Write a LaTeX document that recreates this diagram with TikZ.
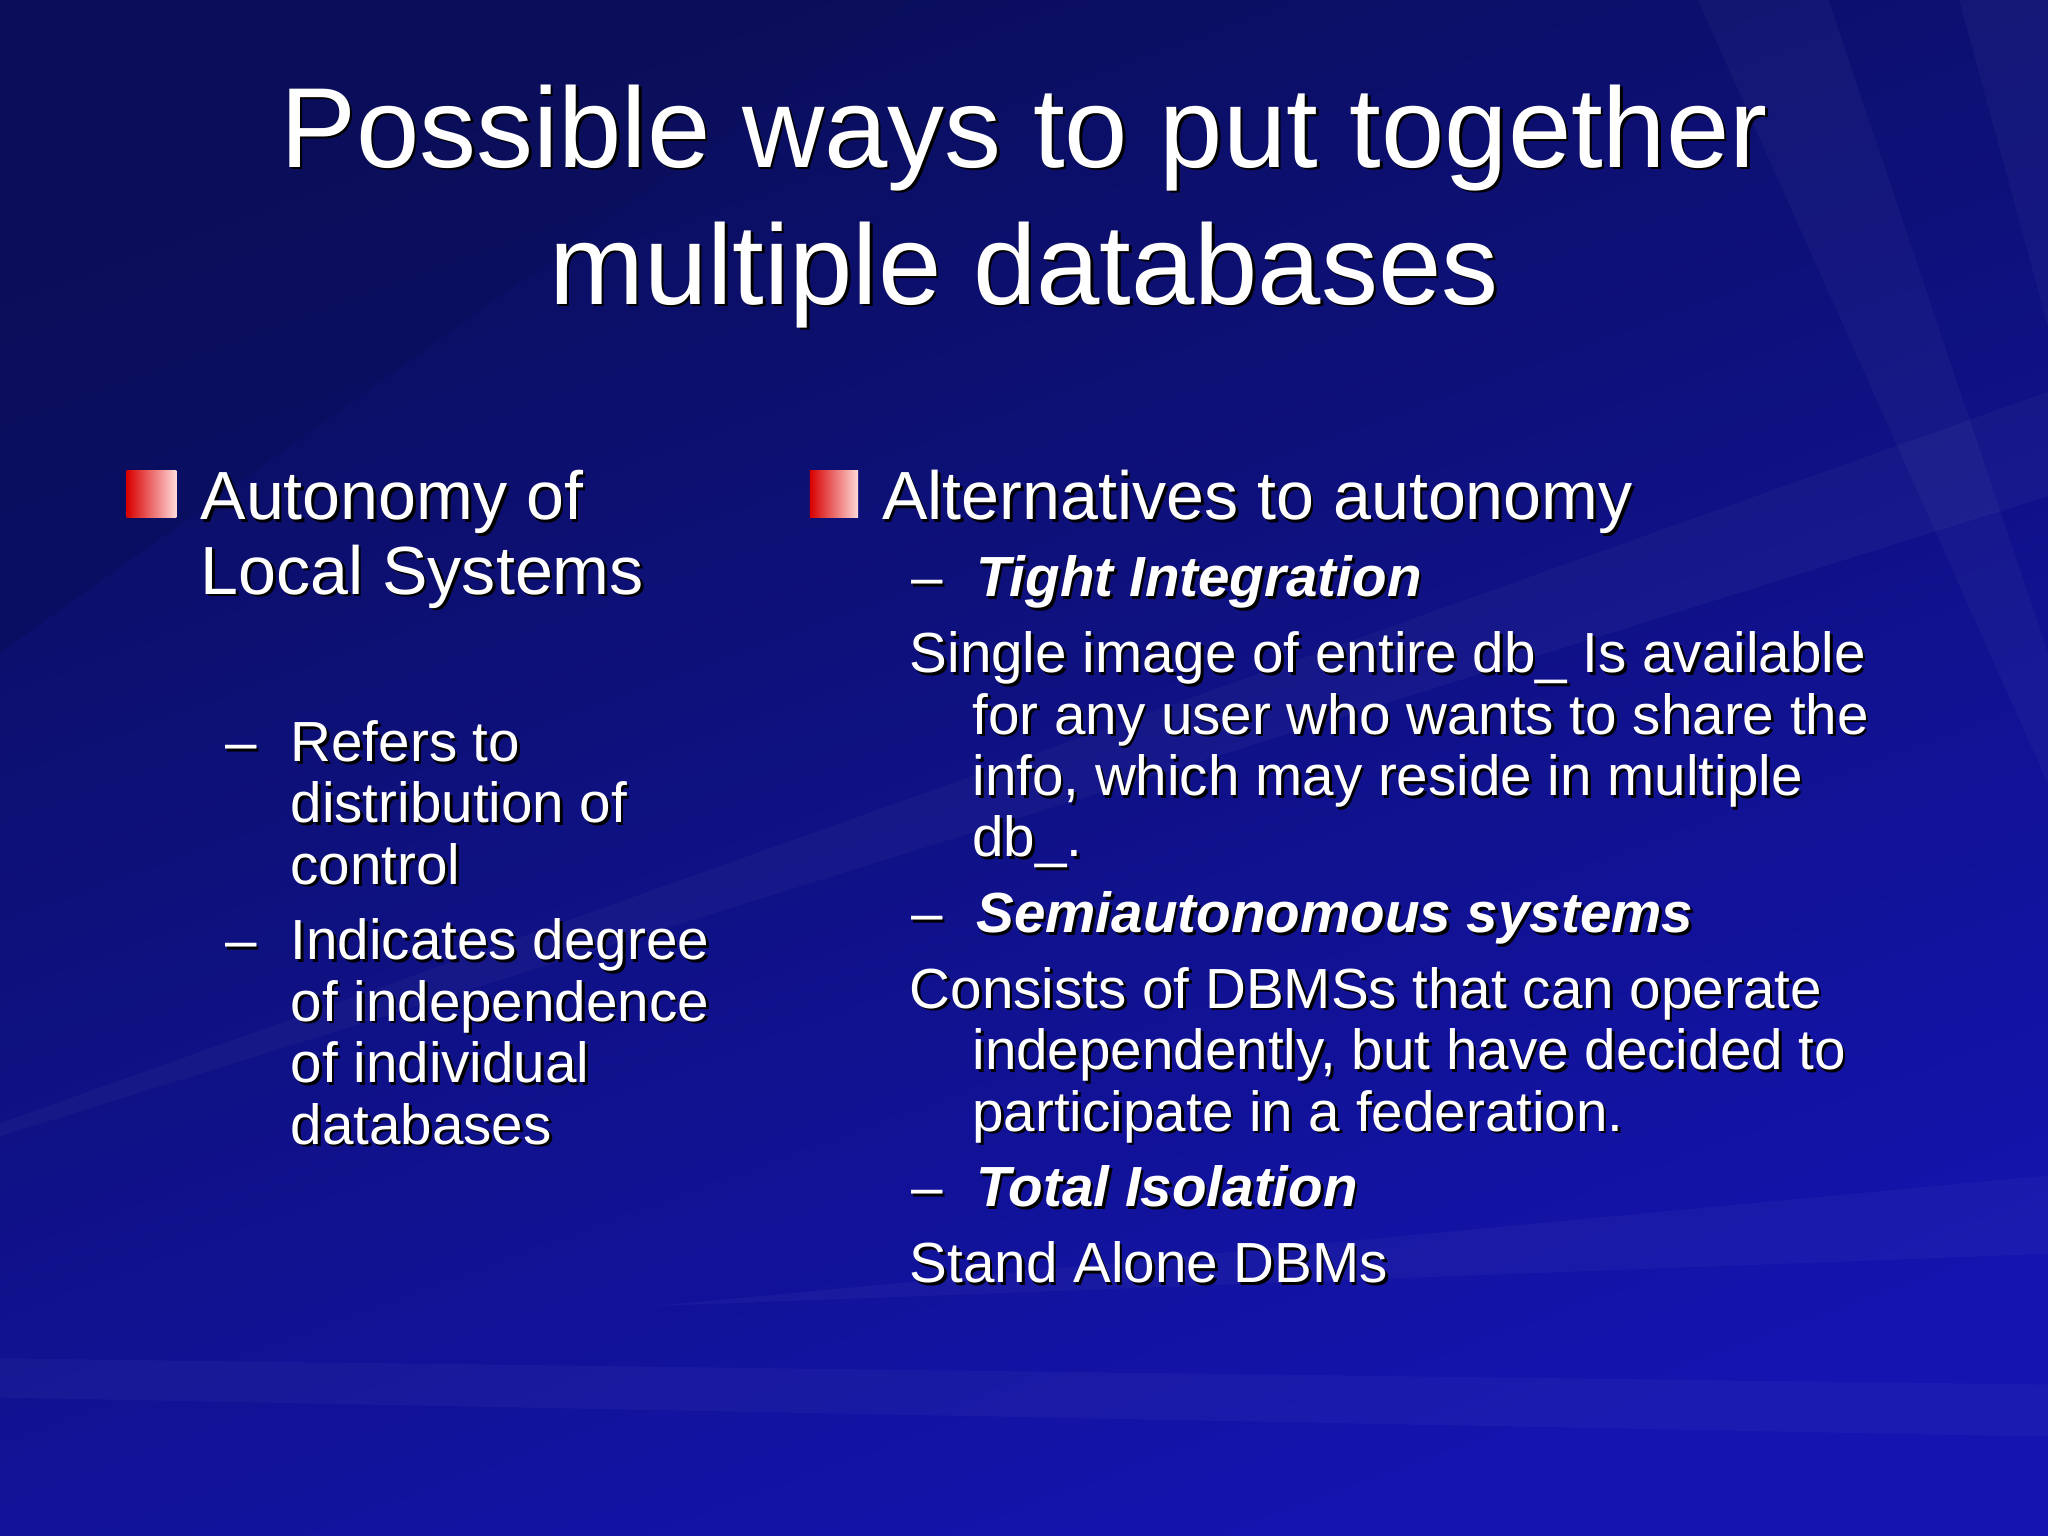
\documentclass[tikz,border=0pt]{standalone}
\usepackage{fontspec}
\setmainfont{Liberation Sans}
\definecolor{bgA}{HTML}{0A0E5A}
\definecolor{bgB}{HTML}{1414B0}
\tikzset{
 txt/.style={anchor=base west,inner sep=0pt,text=white},
 shd/.style={anchor=base west,inner sep=0pt,text=black},
 ttl/.style={anchor=base,inner sep=0pt,text=white,font=\fontsize{32.4}{39}\selectfont},
 ttls/.style={anchor=base,inner sep=0pt,text=black,font=\fontsize{32.4}{39}\selectfont},
 bsq/.style={left color=red!85!black,right color=white!85!red,draw=none},
 streak/.style={fill=white,opacity=0.03,draw=none}
}
\newcommand{\tl}[5]{\node[shd,font=#4] (#1s) at (#2+2,#3+2) {#5};\node[txt,font=#4] (#1) at (#2,#3) {#5};}
\newcommand{\fa}{\fontsize{19.4}{22}\selectfont}
\newcommand{\fb}{\fontsize{16.1}{18}\selectfont}
\newcommand{\fc}{\fontsize{16.1}{18}\selectfont\bfseries\itshape}
\begin{document}
\begin{tikzpicture}[x=0.01306cm,y=-0.01306cm]
\useasboundingbox (0,0) rectangle (1568,1176);
\shade[top color=bgA,bottom color=bgB,shading angle=20] (0,0) rectangle (1568,1176);
\fill[bgA,opacity=0.5] (0,0) -- (700,0) -- (0,500) -- cycle;
\fill[streak] (1568,300) -- (1568,380) -- (0,870) -- (0,860) -- cycle;
\fill[streak] (1568,900) -- (1568,960) -- (500,1000) -- cycle;
\fill[streak] (1300,0) -- (1400,0) -- (1568,500) -- (1568,600) -- cycle;
\fill[streak] (1568,0) -- (1500,0) -- (1568,250) -- cycle;
\fill[streak] (0,1040) -- (1568,1060) -- (1568,1100) -- (0,1070) -- cycle;
% title
\node[ttls] (t1s) at (786,130) {Possible ways to put together};
\node[ttl] (t1) at (784,128) {Possible ways to put together};
\node[ttls] (t2s) at (786,235) {multiple databases};
\node[ttl] (t2) at (784,233) {multiple databases};
% left column
\fill[bsq] (97,360) rectangle (135,396);
\tl{a1}{153}{398}{\fa}{Autonomy of}
\tl{a2}{153}{455}{\fa}{Local Systems}
\tl{d1}{172}{583}{\fb}{–}
\tl{l1}{222}{583}{\fb}{Refers to}
\tl{l2}{222}{630}{\fb}{distribution of}
\tl{l3}{222}{677}{\fb}{control}
\tl{d2}{172}{735}{\fb}{–}
\tl{l4}{222}{735}{\fb}{Indicates degree}
\tl{l5}{222}{782}{\fb}{of independence}
\tl{l6}{222}{829}{\fb}{of individual}
\tl{l7}{222}{876}{\fb}{databases}
% right column
\fill[bsq] (620,360) rectangle (657,396);
\tl{b1}{675}{398}{\fa}{Alternatives to autonomy}
\tl{e1}{697}{457}{\fb}{–}
\tl{r1}{747}{457}{\fc}{Tight Integration}
\tl{r2}{696}{515}{\fb}{Single image of entire db\_ Is available}
\tl{r3}{744}{562}{\fb}{for any user who wants to share the}
\tl{r4}{744}{609}{\fb}{info, which may reside in multiple}
\tl{r5}{744}{656}{\fb}{db\_.}
\tl{e2}{697}{714}{\fb}{–}
\tl{r6}{747}{714}{\fc}{Semiautonomous systems}
\tl{r7}{696}{772}{\fb}{Consists of DBMSs that can operate}
\tl{r8}{744}{819}{\fb}{independently, but have decided to}
\tl{r9}{744}{866}{\fb}{participate in a federation.}
\tl{e3}{697}{924}{\fb}{–}
\tl{r10}{747}{924}{\fc}{Total Isolation}
\tl{r11}{696}{982}{\fb}{Stand Alone DBMs}
\end{tikzpicture}
\end{document}
